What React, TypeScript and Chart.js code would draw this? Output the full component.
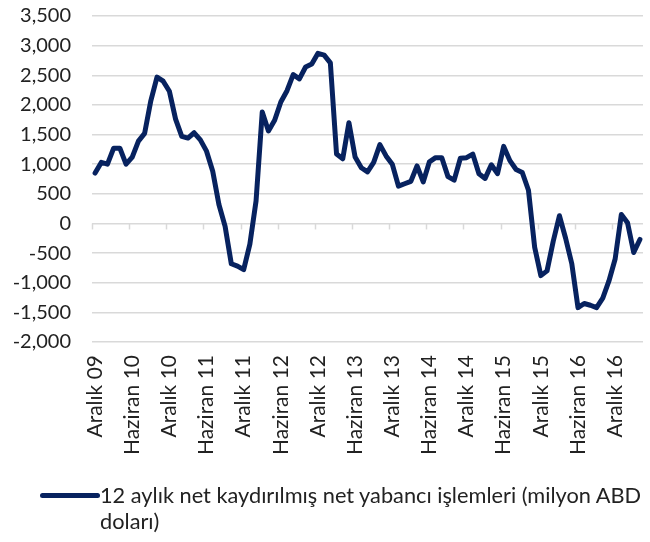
import React, { useEffect, useRef } from "react";
import { Chart, registerables } from "chart.js";

Chart.register(...registerables);

const tickLabels = [
  "Aralık 09", "Haziran 10", "Aralık 10", "Haziran 11", "Aralık 11",
  "Haziran 12", "Aralık 12", "Haziran 13", "Aralık 13", "Haziran 14",
  "Aralık 14", "Haziran 15", "Aralık 15", "Haziran 16", "Aralık 16",
];

const monthNames = [
  "Ocak", "Şubat", "Mart", "Nisan", "Mayıs", "Haziran",
  "Temmuz", "Ağustos", "Eylül", "Ekim", "Kasım", "Aralık",
];

// Dec 2009 – Apr 2017, million USD
const values = [
  850, 1030, 1000, 1270, 1270, 1000, 1120, 1390, 1520, 2070,
  2470, 2400, 2230, 1760, 1470, 1440, 1530, 1410, 1220, 880,
  320, -50, -680, -720, -780, -350, 380, 1880, 1560, 1740,
  2050, 2240, 2510, 2440, 2640, 2690, 2870, 2840, 2710, 1170,
  1090, 1700, 1120, 940, 870, 1030, 1330, 1140, 1000, 630,
  670, 710, 970, 700, 1040, 1110, 1110, 790, 730, 1100,
  1110, 1170, 840, 760, 990, 840, 1300, 1060, 910, 860,
  560, -400, -880, -800, -300, 130, -250, -680, -1420, -1350,
  -1380, -1420, -1260, -970, -600, 150, 10, -490, -270,
];

const categories = values.map((_, i) => {
  const m = (11 + i) % 12;
  const y = 9 + Math.floor((11 + i) / 12);
  return monthNames[m] + " " + String(y).padStart(2, "0");
});

const seriesLabel = "12 aylık net kaydırılmış net yabancı işlemleri (milyon ABD doları)";
const legendLine1 = "12 aylık net kaydırılmış net yabancı işlemleri (milyon ABD";
const legendLine2 = "doları)";

const NAVY = "#07225f";
const GRID = "#d9d9d9";
const FONT = "Lato, 'Open Sans', sans-serif";

const zeroTicks = {
  id: "zeroTicks",
  beforeDatasetsDraw(chart: any) {
    const xs = chart.scales.x;
    const ys = chart.scales.y;
    const ctx = chart.ctx;
    const half = (xs.getPixelForValue(1) - xs.getPixelForValue(0)) / 2;
    const y0 = ys.getPixelForValue(0);
    ctx.save();
    ctx.strokeStyle = GRID;
    ctx.lineWidth = 1.5;
    for (let i = 0; i < values.length; i += 6) {
      const x = Math.round(xs.getPixelForValue(i) - half) + 0.5;
      ctx.beginPath();
      ctx.moveTo(x, y0);
      ctx.lineTo(x, y0 + 6);
      ctx.stroke();
    }
    ctx.restore();
  },
};

export default function App() {
  const ref = useRef<HTMLCanvasElement>(null);
  useEffect(() => {
    if (!ref.current) return;
    const chart = new Chart(ref.current, {
      type: "line",
      data: {
        labels: categories,
        datasets: [
          {
            label: seriesLabel,
            data: values,
            borderColor: NAVY,
            backgroundColor: NAVY,
            borderWidth: 5,
            pointRadius: 0,
            tension: 0,
            borderCapStyle: "round",
            borderJoinStyle: "round",
          },
        ],
      },
      options: {
        responsive: false,
        animation: false,
        devicePixelRatio: 1,
        layout: { padding: { left: 0, right: 7, top: 16, bottom: 0 } },
        plugins: {
          legend: { display: false },
          tooltip: { enabled: false },
        },
        scales: {
          x: {
            type: "category",
            offset: true,
            grid: { display: false, drawTicks: false },
            border: { display: false },
            ticks: {
              autoSkip: false,
              minRotation: 90,
              maxRotation: 90,
              padding: 13,
              color: "#222",
              font: { family: FONT, size: 21 },
              callback: (_v: any, i: number) => (i % 6 === 0 ? tickLabels[i / 6] : ""),
            },
            afterFit: (s: any) => {
              s.height = 200;
              s.paddingLeft = 0;
              s.paddingRight = 0;
              s.paddingTop = 0;
              s.paddingBottom = 0;
            },
          },
          y: {
            min: -2000,
            max: 3500,
            grid: { color: GRID, lineWidth: 1.5, drawTicks: false },
            border: { display: false },
            ticks: {
              stepSize: 500,
              padding: 21,
              color: "#222",
              font: { family: FONT, size: 20 },
              callback: (v: any) => Number(v).toLocaleString("en-US"),
            },
            afterFit: (s: any) => {
              s.width = 92;
              s.paddingLeft = 0;
              s.paddingRight = 0;
              s.paddingTop = 0;
              s.paddingBottom = 0;
            },
          },
        },
      },
      plugins: [zeroTicks],
    });
    return () => chart.destroy();
  }, []);

  return (
    <div style={{ position: "absolute", left: 0, top: 0, width: 650, height: 542, background: "#fff" }}>
      <canvas ref={ref} width={650} height={542} style={{ width: 650, height: 542, display: "block" }} />
      <div
        style={{
          position: "absolute",
          left: 40,
          top: 493,
          width: 60,
          height: 5,
          borderRadius: 2.5,
          background: NAVY,
        }}
      />
      <div
        style={{
          position: "absolute",
          left: 100,
          top: 482,
          fontFamily: FONT,
          fontSize: 21.75,
          lineHeight: "26px",
          color: "#222",
          whiteSpace: "nowrap",
        }}
      >
        {legendLine1}
        <br />
        {legendLine2}
      </div>
    </div>
  );
}
